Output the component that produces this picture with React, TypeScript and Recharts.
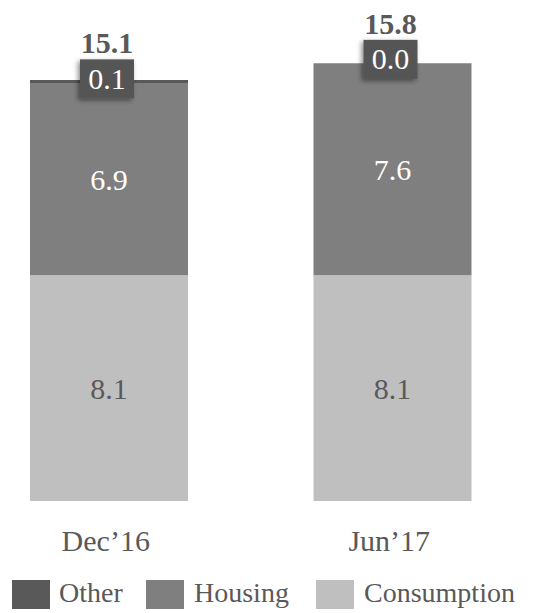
import { Bar, BarChart, LabelList, XAxis, YAxis } from 'recharts'

const periods = ['Dec’16', 'Jun’17']
const consumption = [8.1, 8.1]
const housing = [6.9, 7.6]
const other = [0.1, 0.0]
const totals = [15.1, 15.8]

const FONT = '"Liberation Serif", "Times New Roman", serif'
const TEXT = '#595959'
const COLORS = { other: '#595959', housing: '#7f7f7f', consumption: '#bfbfbf' }

const data = periods.map((period, i) => ({
  period,
  consumption: consumption[i],
  housing: housing[i],
  other: other[i],
  total: totals[i],
}))

const legendItems = [
  { name: 'Other', color: COLORS.other, left: 12, textLeft: 59 },
  { name: 'Housing', color: COLORS.housing, left: 146, textLeft: 194 },
  { name: 'Consumption', color: COLORS.consumption, left: 316, textLeft: 364 },
]

function PeriodTick({ x, y, payload }: any) {
  return (
    <text x={x - 3} y={y + 42} textAnchor="middle" fill={TEXT} fontSize={30} fontFamily={FONT}>
      {payload.value}
    </text>
  )
}

// tag box for the thin "Other" slice, hung off the top of the housing rect
// (a zero-height bar gets no label of its own), plus the stack total above it
function OtherTag({ x, y, width, index }: any) {
  const cx = x + width / 2 - 2
  const cy = y - 4
  const boxW = 54
  const boxH = 39
  return (
    <g>
      <rect
        x={cx - boxW / 2}
        y={cy - boxH / 2}
        width={boxW}
        height={boxH}
        fill="#555555"
        filter="url(#tagShadow)"
      />
      <text x={cx} y={cy + 10} textAnchor="middle" fill="#ffffff" fontSize={30} fontFamily={FONT}>
        {other[index].toFixed(1)}
      </text>
      <text
        x={cx}
        y={cy - boxH / 2 - 6}
        textAnchor="middle"
        fill={TEXT}
        fontSize={30}
        fontWeight="bold"
        fontFamily={FONT}
      >
        {totals[index].toFixed(1)}
      </text>
    </g>
  )
}

export default function App() {
  return (
    <div style={{ position: 'absolute', left: 0, top: 0, width: 539, height: 613, background: '#fff' }}>
      <div style={{ position: 'absolute', left: -33, top: 0 }}>
        <BarChart
          width={567}
          height={613}
          data={data}
          margin={{ top: 55, right: 0, bottom: 52, left: 0 }}
          barSize={158}
        >
          <defs>
            <filter id="tagShadow" x="-30%" y="-30%" width="160%" height="160%">
              <feDropShadow dx={-2} dy={2} stdDeviation={2.5} floodColor="#000" floodOpacity={0.45} />
            </filter>
          </defs>
          <XAxis
            dataKey="period"
            axisLine={false}
            tickLine={false}
            height={60}
            interval={0}
            tick={<PeriodTick />}
          />
          <YAxis hide domain={[0, 16]} />
          <Bar dataKey="consumption" stackId="a" fill={COLORS.consumption} isAnimationActive={false}>
            <LabelList
              dataKey="consumption"
              position="center"
              fill={TEXT}
              fontSize={30}
              fontFamily={FONT}
              formatter={(v: any) => Number(v).toFixed(1)}
            />
          </Bar>
          <Bar dataKey="housing" stackId="a" fill={COLORS.housing} isAnimationActive={false}>
            <LabelList
              dataKey="housing"
              position="center"
              fill="#ffffff"
              fontSize={30}
              fontFamily={FONT}
              formatter={(v: any) => Number(v).toFixed(1)}
            />
            <LabelList dataKey="housing" content={<OtherTag />} />
          </Bar>
          <Bar dataKey="other" stackId="a" fill={COLORS.other} isAnimationActive={false} />
        </BarChart>
      </div>
      {legendItems.map((item) => (
        <div key={item.name}>
          <div
            style={{
              position: 'absolute',
              left: item.left,
              top: 580,
              width: 38,
              height: 29,
              background: item.color,
            }}
          />
          <div
            style={{
              position: 'absolute',
              left: item.textLeft,
              top: 576,
              fontFamily: FONT,
              fontSize: 28,
              lineHeight: '34px',
              color: TEXT,
              whiteSpace: 'nowrap',
            }}
          >
            {item.name}
          </div>
        </div>
      ))}
    </div>
  )
}
